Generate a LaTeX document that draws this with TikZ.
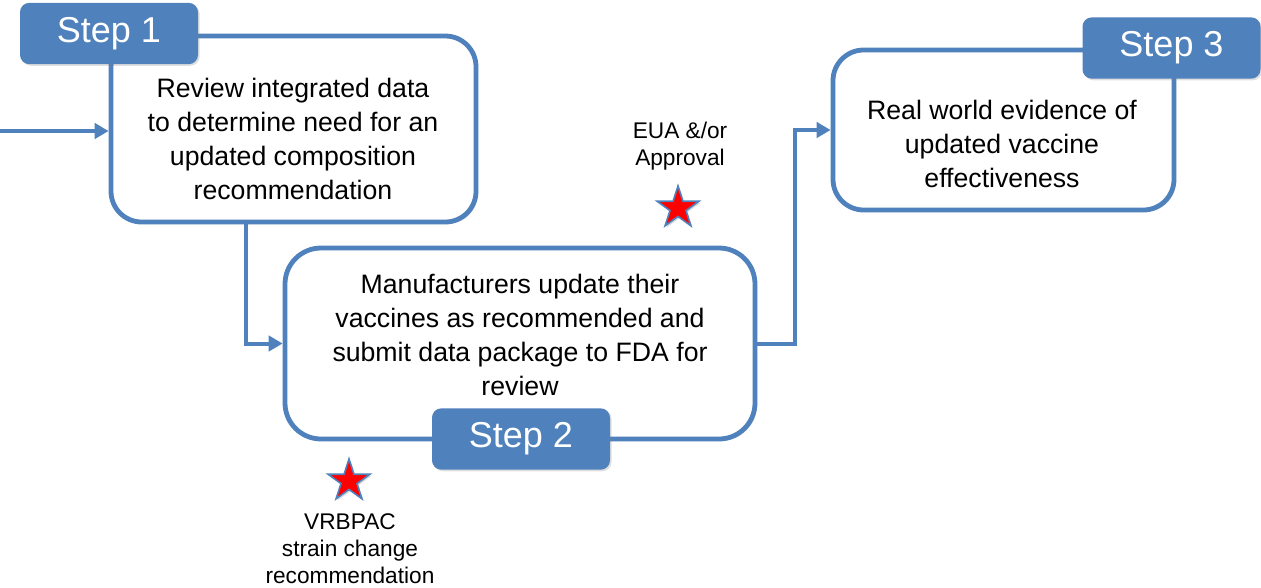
\documentclass[tikz,border=0pt]{standalone}
\usepackage{fontspec}
\setmainfont{Liberation Sans}
\usetikzlibrary{shapes.geometric,arrows.meta,shadows,calc}
\definecolor{fdablue}{HTML}{4F81BD}
\begin{document}
\begin{tikzpicture}[x=0.75pt,y=-0.75pt,
  box/.style={draw=fdablue, line width=3.6pt, fill=white, rounded corners=23pt, inner sep=0pt,
              drop shadow={opacity=0.25, shadow xshift=1.5pt, shadow yshift=-1.5pt}},
  tab/.style={fill=fdablue, rounded corners=7pt, text=white, font=\fontsize{27}{30}\selectfont,
              inner sep=0pt, minimum width=133.5pt, minimum height=46pt,
              drop shadow={opacity=0.25, shadow xshift=1.2pt, shadow yshift=-1.2pt}},
  body/.style={align=center, font=\fontsize{20}{25.5}\selectfont, inner sep=0pt},
  note/.style={align=center, font=\fontsize{17}{20.25}\selectfont, inner sep=0pt},
  conn/.style={draw=fdablue, line width=3pt, -{Triangle[length=10.5pt,width=11.5pt]}},
  redstar/.style={star, star points=5, star point ratio=2.618, minimum size=33pt, inner sep=0pt,
                  fill=red, draw=fdablue, line width=1.2pt,
                  drop shadow={opacity=0.3, shadow xshift=1.2pt, shadow yshift=-1.2pt}}
]
\useasboundingbox (0,0) rectangle (1261,587);

% main boxes
\node[box, minimum width=273.75pt, minimum height=139.5pt] (box1) at (293.5,129) {};
\node[box, rounded corners=27pt, minimum width=352.5pt, minimum height=143.25pt] (box2) at (520,343.5) {};
\node[box, minimum width=255.75pt, minimum height=120pt] (box3) at (1003.5,130) {};

% box texts
\node[body] (t1) at (293,139) {Review integrated data\\to determine need for an\\updated composition\\recommendation};
\node[body] (t2) at (520,335) {Manufacturers update their\\vaccines as recommended and\\submit data package to FDA for\\review};
\node[body] (t3) at (1002,144) {Real world evidence of\\updated vaccine\\effectiveness};

% step tabs
\node[tab] (tab1) at (109,33.5) {Step 1};
\node[tab] (tab2) at (521,439) {Step 2};
\node[tab] (tab3) at (1171.5,48) {Step 3};

% connectors
\coordinate (in) at (0,131);
\draw[conn] (in) -- (in -| box1.west);
\draw[conn] ($(box1.south west)+(137,0)$) |- (box2.west);
\draw[conn] (box2.east) -- ++(38,0) |- (box3.west);

% stars and notes
\node[redstar] (s1) at (678,208) {};
\node[redstar] (s2) at (349,481) {};
\node[note] (n1) at (680,146) {EUA \&/or\\Approval};
\node[note] (n2) at (350,549) {VRBPAC\\strain change\\recommendation};
\end{tikzpicture}
\end{document}
